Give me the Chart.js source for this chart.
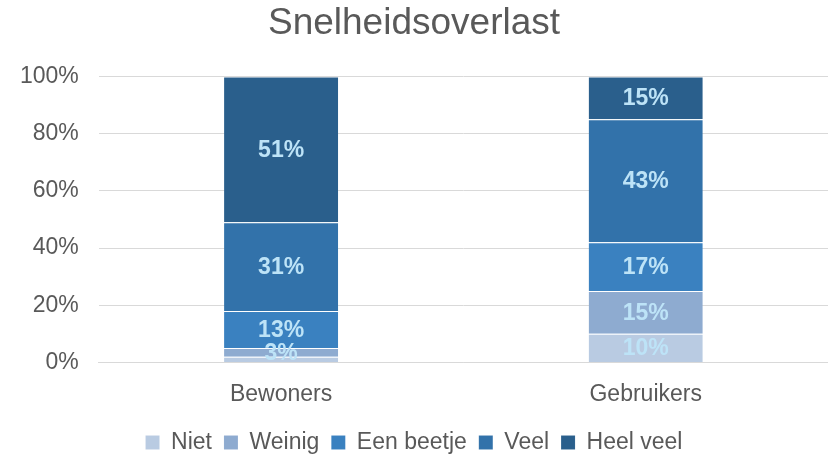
<!DOCTYPE html>
<html>
<head>
<meta charset="utf-8">
<script src="https://cdn.jsdelivr.net/npm/chart.js@4/dist/chart.umd.min.js"></script>
<style>
  html, body { margin: 0; padding: 0; background: #fff; }
  #wrap { width: 828px; height: 455px; position: relative; }
</style>
</head>
<body>
<div id="wrap"><canvas id="chart"></canvas></div>
<script>
const categories = ['Bewoners', 'Gebruikers'];
const seriesNames = ['Niet', 'Weinig', 'Een beetje', 'Veel', 'Heel veel'];
const niet = [2, 10];
const weinig = [3, 15];
const eenBeetje = [13, 17];
const veel = [31, 43];
const heelVeel = [51, 15];
const yTicks = [0, 20, 40, 60, 80, 100];

const colors = ['#b9cbe2', '#8eabd0', '#3a81c0', '#3272aa', '#2a5f8c'];
const seriesValues = [niet, weinig, eenBeetje, veel, heelVeel];
const fontFamily = '"Liberation Sans", Arial, sans-serif';

// draws the value labels in the middle of each segment
const segmentLabels = {
  id: 'segmentLabels',
  afterDatasetsDraw(chart) {
    const ctx = chart.ctx;
    ctx.save();
    ctx.font = 'bold 23px ' + fontFamily;
    ctx.fillStyle = '#bde3f7';
    ctx.textAlign = 'center';
    ctx.textBaseline = 'middle';
    chart.data.datasets.forEach((ds, i) => {
      const meta = chart.getDatasetMeta(i);
      meta.data.forEach((bar, j) => {
        const v = ds.data[j];
        if (v < 3) return;
        const { x, y, base } = bar.getProps(['x', 'y', 'base'], true);
        ctx.fillText(v + '%', x, (y + base) / 2 + 1);
      });
    });
    ctx.restore();
  }
};

new Chart(document.getElementById('chart'), {
  type: 'bar',
  data: {
    labels: categories,
    datasets: seriesNames.map((name, i) => ({
      label: name,
      data: seriesValues[i],
      backgroundColor: colors[i],
      borderColor: 'rgba(255,255,255,0.25)',
      borderWidth: { top: 1, bottom: 0, left: 0, right: 0 },
      categoryPercentage: 1,
      barPercentage: 0.313
    }))
  },
  options: {
    responsive: true,
    maintainAspectRatio: false,
    animation: false,
    layout: { padding: { left: 0, right: 0, top: 0, bottom: -9 } },
    plugins: {
      title: {
        display: true,
        text: 'Snelheidsoverlast',
        color: '#595959',
        font: { family: fontFamily, size: 37, weight: 'normal' },
        padding: { top: 2, bottom: 30 }
      },
      legend: {
        position: 'bottom',
        labels: {
          color: '#595959',
          font: { family: fontFamily, size: 23 },
          boxWidth: 14,
          boxHeight: 14,
          padding: 12
        }
      },
      tooltip: { enabled: false }
    },
    scales: {
      x: {
        stacked: true,
        grid: { display: false },
        border: { color: '#d9d9d9' },
        ticks: {
          color: '#595959',
          font: { family: fontFamily, size: 23 },
          padding: 10.5
        }
      },
      y: {
        stacked: true,
        min: 0,
        max: 100,
        afterBuildTicks(axis) { axis.ticks = yTicks.map(v => ({ value: v })); },
        grid: { color: '#d9d9d9', drawTicks: false },
        border: { display: false },
        ticks: {
          color: '#595959',
          font: { family: fontFamily, size: 23 },
          padding: 20,
          callback: v => v + '%'
        }
      }
    }
  },
  plugins: [segmentLabels]
});
</script>
</body>
</html>
